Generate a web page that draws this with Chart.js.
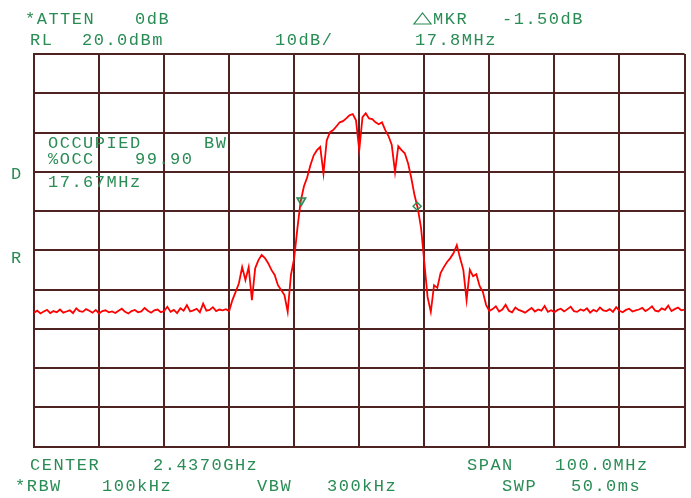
<!DOCTYPE html>
<html>
<head>
<meta charset="utf-8">
<script src="https://cdn.jsdelivr.net/npm/chart.js@4"></script>
<style>
  body { margin: 0; background: #fff; }
</style>
</head>
<body>
<canvas id="c" width="691" height="498"></canvas>
<script>
// sweep: center 2437 MHz, span 100 MHz, one reading every 0.5 MHz
const startMHz = 2387;
const stepMHz = 0.5;
const gridMHz = [2387, 2397, 2407, 2417, 2427, 2437, 2447, 2457, 2467, 2477, 2487];
const gridDbm = [20, 10, 0, -10, -20, -30, -40, -50, -60, -70, -80];

// trace levels in dBm
const traceDbm = [
  -45.9, -45.4, -46.1, -45.6, -45.2, -46.0, -45.5, -45.8, -45.1, -45.9,
  -45.6, -45.3, -46.0, -44.8, -45.5, -45.7, -45.0, -45.4, -45.9, -45.2,
  -46.1, -45.5, -45.3, -45.8, -45.6, -46.0, -45.4, -44.9, -45.7, -46.1,
  -45.5, -45.2, -45.8, -45.6, -44.7, -45.4, -45.9, -45.3, -45.1, -45.8,
  -45.5, -44.4, -45.7, -45.2, -46.0, -44.8, -45.4, -44.0, -45.6, -45.3,
  -44.9, -45.8, -43.6, -45.4, -45.2, -44.5, -45.5, -45.1,
  // left sidelobe
  -45.3, -45.0, -45.5, -42.7, -40.6, -38.4, -34.3, -37.6, -34.3, -42.7,
  -34.6, -32.5, -31.2, -32.0, -33.3, -35.0, -36.3, -38.9, -40.1, -41.4,
  -45.7, -36.3, -32.0,
  // main lobe
  -24.3, -17.5, -13.7, -11.4, -8.3, -5.8, -4.5, -3.7, -10.4, -2.0,
  0.1, 0.6, 1.6, 2.6, 2.9, 3.6, 4.4, 4.7, 3.1, -4.5,
  3.9, 4.9, 3.6, 3.4, 2.6, 2.1, 2.6, 0.6, -0.9, -3.2,
  -10.1, -3.5, -4.5, -5.3, -7.8, -11.6, -16.0, -19.3, -24.3, -33.0,
  // right sidelobe
  -41.9, -45.7, -38.9, -39.6, -35.8, -34.3, -33.0, -32.0, -30.7, -28.7,
  -32.0, -35.0, -42.7, -35.0, -36.6, -36.1, -39.1, -40.6, -43.9, -45.5,
  // floor
  -45.0, -44.3, -45.6, -45.1, -43.9, -45.4, -45.8, -44.6, -45.2, -45.5,
  -45.9, -45.3, -44.7, -45.6, -45.1, -45.4, -44.2, -45.7, -45.3, -45.8,
  -45.2, -44.9, -45.6, -45.0, -44.4, -45.5, -45.7, -45.1, -45.4, -44.8,
  -45.9, -45.2, -45.6, -44.6, -45.3, -45.5, -45.0, -45.7, -44.5, -45.4,
  -45.8, -45.2, -44.9, -45.6, -45.3, -45.1, -44.7, -45.5, -45.0, -44.3,
  -45.4, -45.6, -44.8, -45.2, -44.1, -45.5, -45.0, -44.6, -45.3, -45.1
];

// occupied bandwidth markers
const markerMHz = [2428.1, 2445.9];
const markerDbm = [-17.3, -18.8];

const GREEN = '#2a8c55';
const GRID = 'rgb(80,35,35)';

const traceData = traceDbm.map((v, i) => ({ x: startMHz + i * stepMHz, y: v }));

// screen annotations drawn as text
const screenText = [
  { t: '*ATTEN', x: 25, y: 24 },
  { t: '0dB', x: 135, y: 24 },
  { t: 'MKR', x: 433, y: 24 },
  { t: '-1.50dB', x: 502, y: 24 },
  { t: 'RL', x: 30, y: 45 },
  { t: '20.0dBm', x: 82, y: 45 },
  { t: '10dB/', x: 275, y: 45 },
  { t: '17.8MHz', x: 415, y: 45 },
  { t: 'OCCUPIED', x: 48, y: 148 },
  { t: 'BW', x: 204, y: 148 },
  { t: '%OCC', x: 48, y: 164 },
  { t: '99.90', x: 135, y: 164 },
  { t: '17.67MHz', x: 48, y: 187 },
  { t: 'D', x: 11, y: 179 },
  { t: 'R', x: 11, y: 263 },
  { t: 'CENTER', x: 30, y: 469.5 },
  { t: '2.4370GHz', x: 153, y: 469.5 },
  { t: 'SPAN', x: 467, y: 469.5 },
  { t: '100.0MHz', x: 555, y: 469.5 },
  { t: '*RBW', x: 15, y: 491 },
  { t: '100kHz', x: 102, y: 491 },
  { t: 'VBW', x: 257, y: 491 },
  { t: '300kHz', x: 327, y: 491 },
  { t: 'SWP', x: 502, y: 491 },
  { t: '50.0ms', x: 571, y: 491 }
];

const screenTextPlugin = {
  id: 'screenText',
  afterDraw(chart) {
    const ctx = chart.ctx;
    ctx.save();
    ctx.fillStyle = GREEN;
    ctx.strokeStyle = GREEN;
    ctx.font = '17px "Liberation Mono"';
    ctx.letterSpacing = '1.5px';
    ctx.textBaseline = 'alphabetic';
    screenText.forEach(s => ctx.fillText(s.t, s.x, s.y));
    // delta triangle before MKR
    ctx.lineWidth = 1.2;
    ctx.beginPath();
    ctx.moveTo(414, 24);
    ctx.lineTo(431, 24);
    ctx.lineTo(422.5, 13);
    ctx.closePath();
    ctx.stroke();
    ctx.restore();
  }
};

new Chart(document.getElementById('c'), {
  type: 'line',
  data: {
    datasets: [
      {
        label: 'trace',
        data: traceData,
        borderColor: '#ff0000',
        borderWidth: 1.8,
        pointRadius: 0,
        tension: 0,
        order: 2
      },
      {
        label: 'marker',
        type: 'scatter',
        data: [{ x: markerMHz[0], y: markerDbm[0] }],
        pointStyle: 'triangle',
        rotation: 180,
        radius: 5,
        borderColor: GREEN,
        backgroundColor: 'rgba(42,140,85,0.35)',
        borderWidth: 1.5,
        order: 1
      },
      {
        label: 'delta',
        type: 'scatter',
        data: [{ x: markerMHz[1], y: markerDbm[1] }],
        pointStyle: 'rectRot',
        radius: 4,
        borderColor: GREEN,
        backgroundColor: 'rgba(0,0,0,0)',
        borderWidth: 1.5,
        order: 1
      }
    ]
  },
  options: {
    responsive: false,
    devicePixelRatio: 1,
    animation: false,
    layout: { padding: { left: 34, right: -3, top: 54, bottom: 51.5 } },
    plugins: { legend: { display: false }, tooltip: { enabled: false } },
    scales: {
      x: {
        type: 'linear',
        min: gridMHz[0],
        max: gridMHz[gridMHz.length - 1],
        afterBuildTicks: s => { s.ticks = gridMHz.map(v => ({ value: v })); },
        afterFit: s => { s.height = 0; },
        ticks: { display: false },
        grid: { color: GRID, lineWidth: 2, drawTicks: false },
        border: { color: GRID, width: 2 }
      },
      y: {
        min: gridDbm[gridDbm.length - 1],
        max: gridDbm[0],
        afterBuildTicks: s => { s.ticks = gridDbm.map(v => ({ value: v })); },
        afterFit: s => { s.width = 0; },
        ticks: { display: false },
        grid: { color: GRID, lineWidth: 2, drawTicks: false },
        border: { color: GRID, width: 2 }
      }
    }
  },
  plugins: [screenTextPlugin]
});
</script>
</body>
</html>
